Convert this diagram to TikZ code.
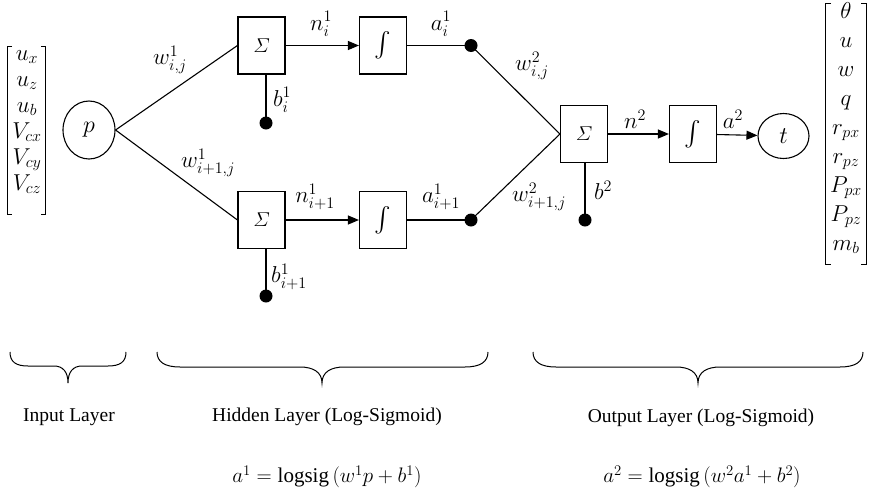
\RequirePackage{fix-cm}
\documentclass[tikz,border=0pt]{standalone}
\usepackage{amsmath}
\usepackage{fontspec}
\setmainfont{Liberation Serif}
\usetikzlibrary{arrows.meta,shapes.geometric}
\begin{document}
\begin{tikzpicture}[x=1pt,y=-1pt,line width=1.1pt,
  blk/.style={draw,minimum width=47pt,minimum height=57pt,inner sep=0pt},
  sig/.style={blk,font=\fontsize{20}{24}\selectfont},
  intg/.style={blk,font=\fontsize{26}{30}\selectfont},
  neuron/.style={draw,ellipse,inner sep=0pt,font=\fontsize{24}{28}\selectfont},
  bdot/.style={circle,fill,inner sep=0pt,minimum size=13pt},
  lbl/.style={font=\fontsize{23}{27}\selectfont,inner sep=0pt},
  ment/.style={font=\fontsize{23}{27}\selectfont,inner sep=0pt,anchor=base},
  txt/.style={font=\fontsize{19.5}{23}\selectfont,inner sep=0pt},
  eqn/.style={font=\fontsize{21}{25}\selectfont,inner sep=0pt},
  arr/.style={-{Triangle[length=11pt,width=9pt]}},
  brk/.style={line width=1pt},
  brace/.style={line width=1pt}]
\useasboundingbox (0,0) rectangle (871,493);

% left input matrix
\draw[brk] (12,46) -- (7.5,46) -- (7.5,214) -- (12,214);
\draw[brk] (41,46) -- (45.5,46) -- (45.5,214) -- (41,214);
\node[ment] (i1) at (27,60) {$u_x$};
\node[ment] (i2) at (27,86) {$u_z$};
\node[ment] (i3) at (27,112) {$u_b$};
\node[ment] (i4) at (27,138) {$V_{cx}$};
\node[ment] (i5) at (27,164) {$V_{cy}$};
\node[ment] (i6) at (27,190) {$V_{cz}$};

% right output matrix
\draw[brk] (831,3) -- (825.5,3) -- (825.5,264) -- (831,264);
\draw[brk] (861,3) -- (866.5,3) -- (866.5,264) -- (861,264);
\node[ment] (o1) at (846,18) {$\theta$};
\node[ment] (o2) at (846,47) {$u$};
\node[ment] (o3) at (846,76) {$w$};
\node[ment] (o4) at (846,105) {$q$};
\node[ment] (o5) at (846,134) {$r_{px}$};
\node[ment] (o6) at (846,163) {$r_{pz}$};
\node[ment] (o7) at (846,192) {$P_{px}$};
\node[ment] (o8) at (846,221) {$P_{pz}$};
\node[ment] (o9) at (846,250) {$m_b$};

% nodes
\node[neuron,minimum width=52pt,minimum height=58pt] (p) at (89,130) {$p$};
\node[sig] (s1) at (261.5,45.5) {$\varSigma$};
\node[sig] (s2) at (261.5,220) {$\varSigma$};
\node[intg] (f1) at (383,45.5) {$\int$};
\node[intg] (f2) at (383,220) {$\int$};
\node[bdot] (d1) at (471,45.5) {};
\node[bdot] (d2) at (471,220) {};
\node[bdot] (b1) at (266,123) {};
\node[bdot] (b2) at (266,296) {};
\node[sig] (s3) at (584,134) {$\varSigma$};
\node[intg] (f3) at (693,134) {$\int$};
\node[bdot] (b3) at (585,220) {};
\node[neuron,minimum width=51pt,minimum height=45pt] (t) at (783.5,136) {$t$};

% connectors
\draw (p.east) -- (s1.west);
\draw (p.east) -- (s2.west);
\draw[arr] (s1) -- (f1);
\draw[arr] (s2) -- (f2);
\draw (f1) -- (d1.center);
\draw (f2) -- (d2.center);
\draw (d1.center) -- (s3.west);
\draw (d2.center) -- (s3.west);
\draw (b1.center) -- (b1 |- s1.south);
\draw (b2.center) -- (b2 |- s2.south);
\draw (b3.center) -- (b3 |- s3.south);
\draw[arr] (s3) -- (f3);
\draw[arr] (f3) -- (t);

% labels
\node[lbl] (lw1) at (170,60) {$w^1_{i,j}$};
\node[lbl] (lw2) at (208,163) {$w^1_{i+1,j}$};
\node[lbl] (lb1) at (282,100) {$b^1_i$};
\node[lbl] (lb2) at (289,277) {$b^1_{i+1}$};
\node[lbl] (ln1) at (321,24) {$n^1_i$};
\node[lbl] (la1) at (441,24) {$a^1_i$};
\node[lbl] (ln2) at (315,197) {$n^1_{i+1}$};
\node[lbl] (la2) at (441,197) {$a^1_{i+1}$};
\node[lbl] (lw3) at (532,66) {$w^2_{i,j}$};
\node[lbl] (lw4) at (539,197) {$w^2_{i+1,j}$};
\node[lbl] (lb3) at (603,190) {$b^2$};
\node[lbl] (ln3) at (635,119) {$n^2$};
\node[lbl] (la3) at (733,119) {$a^2$};

% braces
\draw[brace] (10,352) .. controls (10,362) and (16,366) .. (28,366) -- (54,366)
  .. controls (63,366) and (68,372) .. (68,383)
  .. controls (68,372) and (73,366) .. (82,366) -- (108,366)
  .. controls (120,366) and (126,362) .. (126,352);
\draw[brace] (157,352) .. controls (157,362) and (165,367) .. (180,367) -- (300,367)
  .. controls (313,367) and (322,372) .. (322,383)
  .. controls (322,372) and (331,367) .. (344,367) -- (465,367)
  .. controls (480,367) and (488,362) .. (488,352);
\draw[brace] (533,352) .. controls (533,362) and (541,367) .. (556,367) -- (676,367)
  .. controls (689,367) and (698,372) .. (698,383)
  .. controls (698,372) and (707,367) .. (720,367) -- (840,367)
  .. controls (855,367) and (863,362) .. (863,352);

% layer captions
\node[txt] (c1) at (69,417) {Input Layer};
\node[txt] (c2) at (327,417) {Hidden Layer (Log-Sigmoid)};
\node[txt] (c3) at (701,418) {Output Layer (Log-Sigmoid)};
\node[eqn] (e1) at (327,477) {$a^1 = \textnormal{logsig}\,(w^1p + b^1)$};
\node[eqn] (e2) at (702,477) {$a^2 = \textnormal{logsig}\,(w^2a^1 + b^2)$};
\end{tikzpicture}
\end{document}
